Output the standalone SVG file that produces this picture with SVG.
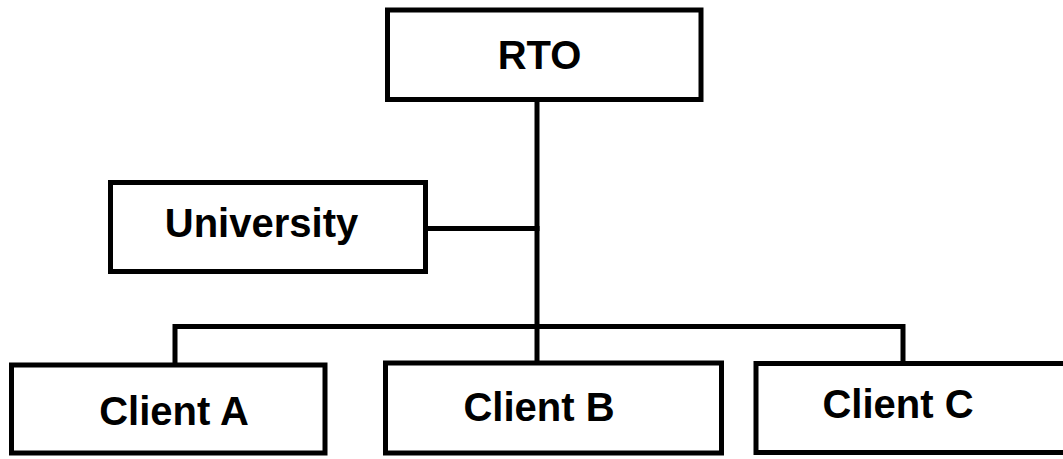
<svg xmlns="http://www.w3.org/2000/svg" width="1063" height="459" viewBox="0 0 1063 459">
  <style>
    .box { fill: #ffffff; stroke: #000000; stroke-width: 5; }
    .wire { fill: none; stroke: #000000; stroke-width: 5; stroke-linecap: square; }
    .label { font-family: "Liberation Sans", Arial, sans-serif; font-weight: bold; font-size: 40px; fill: #000000; text-anchor: middle; }
  </style>
  <rect x="0" y="0" width="1063" height="459" fill="#ffffff"/>

  <!-- connectors -->
  <g id="connectors">
    <path class="wire" d="M537 100 V363"/>
    <path class="wire" d="M425 228.5 H537"/>
    <path class="wire" d="M175 365 V326.5 H903 V363"/>
  </g>

  <g id="rto">
    <rect class="box" x="387.5" y="10" width="313.5" height="89.5"/>
    <text class="label" x="539.5" y="69">RTO</text>
  </g>

  <g id="university">
    <rect class="box" x="110.5" y="182.5" width="315" height="89"/>
    <text class="label" x="261.5" y="237">University</text>
  </g>

  <g id="client-a">
    <rect class="box" x="11.5" y="365" width="313.5" height="88"/>
    <text class="label" x="174" y="425">Client A</text>
  </g>

  <g id="client-b">
    <rect class="box" x="385.5" y="363" width="336" height="90"/>
    <text class="label" x="539" y="421">Client B</text>
  </g>

  <g id="client-c">
    <rect class="box" x="756" y="363.5" width="312" height="89"/>
    <text class="label" x="898" y="418">Client C</text>
  </g>
</svg>
